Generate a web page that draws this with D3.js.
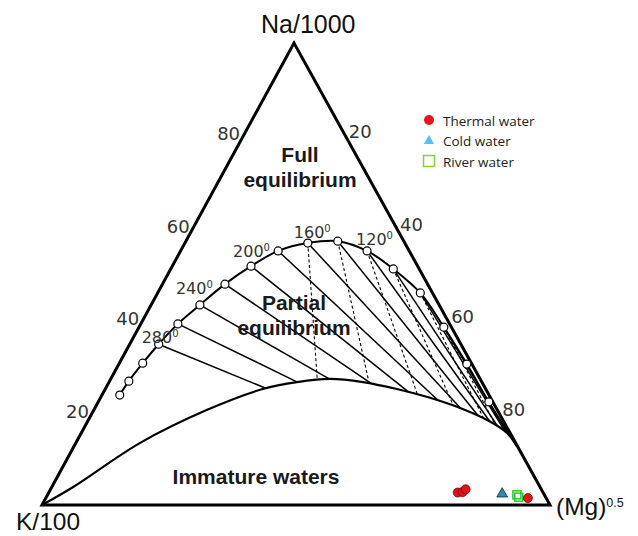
<!DOCTYPE html>
<html><head><meta charset="utf-8">
<script src="https://cdn.jsdelivr.net/npm/d3@7"></script>
<style>body{margin:0;background:#fff} svg{display:block}</style>
</head><body>
<svg id="chart" width="638" height="536"></svg>
<script>
// Giggenbach Na/1000 – K/100 – (Mg)^0.5 ternary diagram, values in percent.

// Full equilibrium line, one point per 20 °C
const eqTemps = [340,320,300,280,260,240,220,200,180,160,140,120,100,80,60,40,20];
const eqNa = [23.8,26.8,30.7,34.8,39.2,43.3,47.8,51.7,55.0,56.7,57.1,55.0,51.1,45.9,38.5,30.5,22.3];
const eqK  = [72.7,69.4,64.7,59.5,53.5,47.1,39.9,32.8,25.8,19.1,13.0,8.3,5.1,2.4,1.5,1.0,0.8];
const eqMg = [3.5,3.8,4.6,5.7,7.3,9.6,12.3,15.5,19.2,24.2,29.9,36.7,43.8,51.7,60.0,68.5,76.9];
// Common end point of both lines on the Na–Mg side
const endNa = 12.6, endK = 0.1, endMg = 87.3;

// Immature-water (rock dissolution) line
const immNa = [0,3.9,13.4,20.6,25.1,26.6,27.3,26.6,25.1,23.2,21.6,18.4,15.6,12.6];
const immK  = [100,91.9,74.0,57.1,43.9,36.4,29.5,23.4,17.5,11.9,8.2,3.1,0.6,0.1];
const immMg = [0,4.2,12.6,22.3,31.0,37.0,43.2,50.0,57.4,64.9,70.2,78.5,83.8,87.3];

const labelledTemps = [280,240,200,160,120];
const naKIsotherms  = [280,260,240,220,200,180,160,140,120,100,80,60];
const kMgIsotherms  = [160,140,120,100,80,60];
const axisTicks = [20,40,60,80];

// Samples
const thermalNa = [2.7,2.8,3.4,1.5];
const thermalK  = [16.8,15.8,14.9,3.6];
const thermalMg = [80.5,81.4,81.7,94.9];
const coldNa = [2.4], coldK = [8.2], coldMg = [89.4];
const riverNa = [2.2,1.7], riverK = [5.4,5.3], riverMg = [92.4,93.0];

const legendNames = ["Thermal water","Cold water","River water"];

// ---- ternary projection built from linear scales
const naY = d3.scaleLinear().domain([0,100]).range([505,43]);
const naX = d3.scaleLinear().domain([0,100]).range([42,294]);
const mgX = d3.scaleLinear().domain([0,100]).range([0,508]);
function proj(na, k, mg) {
  const s = na + k + mg;
  const a = na / s * 100, c = mg / s * 100;
  return [naX(a) + mgX(c), naY(a)];
}
const vNa = proj(100,0,0), vK = proj(0,100,0), vMg = proj(0,0,100);

const svg = d3.select("#chart");
const g = svg.append("g");

// Triangle
g.append("path")
  .attr("d", d3.line()([vK, vNa, vMg]) + "Z")
  .attr("fill","none").attr("stroke","#000").attr("stroke-width",3)
  .attr("stroke-linejoin","miter");

// Immature line
const immPts = immNa.map((d,i) => proj(d, immK[i], immMg[i]));
const immPath = g.append("path")
  .attr("d", d3.line().curve(d3.curveCatmullRom)(immPts))
  .attr("fill","none").attr("stroke","#000").attr("stroke-width",2.2);

// Full equilibrium points
const eqPts = eqNa.map((d,i) => proj(d, eqK[i], eqMg[i]));
const eqByT = {};
eqTemps.forEach((t,i) => eqByT[t] = eqPts[i]);

// Intersection of the line o->p with the immature curve
function hitCurve(o, p, beyond) {
  const node = immPath.node();
  const L = node.getTotalLength(), n = 1200;
  const dx = p[0]-o[0], dy = p[1]-o[1];
  const len2 = dx*dx + dy*dy;
  const cross = q => dx*(q[1]-o[1]) - dy*(q[0]-o[0]);
  let prev = null, prevC = 0, best = null, bestD = Infinity;
  for (let i = 0; i <= n; i++) {
    const pt = node.getPointAtLength(L*i/n), q = [pt.x, pt.y], c = cross(q);
    if (prev && (prevC === 0 || prevC*c < 0)) {
      const f = prevC === c ? 0 : prevC/(prevC - c);
      const r = [prev[0] + f*(q[0]-prev[0]), prev[1] + f*(q[1]-prev[1])];
      const t = ((r[0]-o[0])*dx + (r[1]-o[1])*dy) / len2;
      const ok = beyond ? t > 1 : (t > 0 && t < 1);
      if (ok && Math.abs(t-1) < bestD) { bestD = Math.abs(t-1); best = r; }
    }
    prev = q; prevC = c;
  }
  return best;
}

// Na/K isotherms (radiating from the Mg corner)
naKIsotherms.forEach(t => {
  const p = eqByT[t], r = hitCurve(vMg, p, false);
  if (r) g.append("line").attr("x1",p[0]).attr("y1",p[1]).attr("x2",r[0]).attr("y2",r[1])
    .attr("stroke","#000").attr("stroke-width",1.5);
});
// K/Mg isotherms (radiating from the Na corner)
kMgIsotherms.forEach(t => {
  const p = eqByT[t], r = hitCurve(vNa, p, true);
  if (r) g.append("line").attr("x1",p[0]).attr("y1",p[1]).attr("x2",r[0]).attr("y2",r[1])
    .attr("stroke","#000").attr("stroke-width",1.1).attr("stroke-dasharray","3,2.5");
});

// Full equilibrium line
g.append("path")
  .attr("d", d3.line().curve(d3.curveCatmullRom)([...eqPts, proj(endNa,endK,endMg)]))
  .attr("fill","none").attr("stroke","#000").attr("stroke-width",2);
g.selectAll("circle.eq").data(eqPts).join("circle").attr("class","eq")
  .attr("cx",d=>d[0]).attr("cy",d=>d[1]).attr("r",4)
  .attr("fill","#fff").attr("stroke","#000").attr("stroke-width",1.2);

// Temperature labels
const tempOffset = {280:[-17,-1],240:[-24,-11],200:[-18,-9],160:[-14,-5],120:[-11,-6]};
labelledTemps.forEach(t => {
  const p = eqByT[t], o = tempOffset[t];
  const tx = g.append("text").attr("x",p[0]+o[0]).attr("y",p[1]+o[1])
    .attr("font-family","DejaVu Sans").attr("font-size",16).attr("fill","#333");
  tx.append("tspan").text(t);
  tx.append("tspan").attr("font-size",10).attr("dy",-6).text("0");
});

// Side tick labels
axisTicks.forEach(v => {
  const pl = proj(v, 100-v, 0);
  g.append("text").attr("x",pl[0]-15).attr("y",pl[1]+5)
    .attr("text-anchor","middle").attr("font-family","DejaVu Sans")
    .attr("font-size",18).attr("fill","#333").text(v);
  const pr = proj(100-v, 0, v);
  g.append("text").attr("x",pr[0]+15).attr("y",pr[1]+3)
    .attr("text-anchor","middle").attr("font-family","DejaVu Sans")
    .attr("font-size",18).attr("fill","#333").text(v);
});

// Corner labels
g.append("text").attr("x",vNa[0]-33).attr("y",33).attr("font-family","Liberation Sans")
  .attr("font-size",25).attr("fill","#111").text("Na/1000");
g.append("text").attr("x",16).attr("y",530).attr("font-family","Liberation Sans")
  .attr("font-size",24.5).attr("fill","#111").text("K/100");
const mgLab = g.append("text").attr("x",556).attr("y",515).attr("font-family","Liberation Sans")
  .attr("font-size",24.5).attr("fill","#111");
mgLab.append("tspan").text("(Mg)");
mgLab.append("tspan").attr("font-size",12.5).attr("dy",-8).text("0.5");

// Field names
function fieldLabel(lines, x, y0, dy) {
  lines.forEach((s,i) => g.append("text").attr("x",x).attr("y",y0+i*dy)
    .attr("text-anchor","middle").attr("font-family","Liberation Sans")
    .attr("font-weight","bold").attr("font-size",21).attr("fill","#1a1a1a").text(s));
}
fieldLabel(["Full","equilibrium"], 300, 162, 25);
fieldLabel(["Partial","equilibrium"], 294, 310, 25);
fieldLabel(["Immature waters"], 256, 484, 0);

// Samples
const thermal = thermalNa.map((d,i) => proj(d, thermalK[i], thermalMg[i]));
const cold = coldNa.map((d,i) => proj(d, coldK[i], coldMg[i]));
const river = riverNa.map((d,i) => proj(d, riverK[i], riverMg[i]));

g.selectAll("rect.river").data(river).join("rect").attr("class","river")
  .attr("x",d=>d[0]-4).attr("y",d=>d[1]-4).attr("width",8).attr("height",8)
  .attr("fill","none").attr("stroke","#22cc22").attr("stroke-width",1.5);
g.selectAll("path.cold").data(cold).join("path").attr("class","cold")
  .attr("transform",d=>`translate(${d[0]},${d[1]})`)
  .attr("d", d3.symbol(d3.symbolTriangle, 50)())
  .attr("fill","#2a8fb8").attr("stroke","#123").attr("stroke-width",0.8);
g.selectAll("circle.th").data(thermal).join("circle").attr("class","th")
  .attr("cx",d=>d[0]).attr("cy",d=>d[1]).attr("r",4.5)
  .attr("fill","#e0141b").attr("stroke","#7a0000").attr("stroke-width",0.8);

// Legend
const lg = svg.append("g");
const lx = 429, ly = [120,140,161];
lg.append("circle").attr("cx",lx).attr("cy",ly[0]).attr("r",5).attr("fill","#e8141b");
lg.append("path").attr("transform",`translate(${lx},${ly[1]+1})`)
  .attr("d", d3.symbol(d3.symbolTriangle, 45)()).attr("fill","#4fc3f7");
lg.append("rect").attr("x",lx-5.5).attr("y",ly[2]-5.5).attr("width",11).attr("height",11)
  .attr("fill","none").attr("stroke","#84d12b").attr("stroke-width",1.5);
legendNames.forEach((s,i) => lg.append("text").attr("x",443).attr("y",ly[i]+5.5)
  .attr("font-family","Open Sans").attr("font-size",13.5).attr("fill","#222").text(s));
</script>
</body></html>
